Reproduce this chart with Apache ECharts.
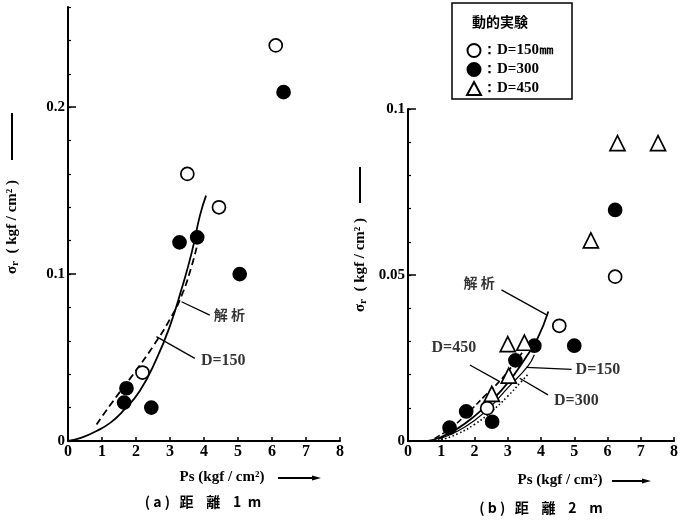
<!DOCTYPE html>
<html>
<head>
<meta charset="utf-8">
<script src="https://cdn.jsdelivr.net/npm/echarts@6/dist/echarts.min.js"></script>
<style>html,body{margin:0;padding:0;background:#fff}#c{width:681px;height:530px}</style>
</head>
<body>
<div id="c"></div>
<script>
// ---------- data (a) distance 1 m ----------
const a_open = [[6.11,0.237],[3.51,0.160],[4.44,0.140],[2.19,0.041]];
const a_fill = [[6.34,0.209],[3.28,0.119],[3.80,0.122],[5.05,0.100],[1.72,0.0316],[1.65,0.023],[2.45,0.020]];
const a_analysis = [[0,0],[0.4,0.002],[0.84,0.006],[1.25,0.011],[1.62,0.018],[2.11,0.030],[2.61,0.0495],[3.0,0.069],[3.34,0.091],[3.64,0.113],[3.88,0.135],[4.06,0.147]];
const a_d150 = [[0.84,0.0099],[1.33,0.024],[1.92,0.040],[2.51,0.057],[3.0,0.073],[3.34,0.087],[3.64,0.105],[3.83,0.120]];
// ---------- data (b) distance 2 m ----------
const b_open = [[6.23,0.0495],[4.55,0.0347],[2.38,0.0099]];
const b_fill = [[6.23,0.0696],[5.0,0.0287],[3.8,0.0287],[3.23,0.0243],[2.53,0.0058],[1.75,0.0089],[1.25,0.004]];
const b_tri = [[6.3,0.0897],[7.52,0.0897],[5.5,0.0604],[3.0,0.0292],[3.5,0.0296],[3.03,0.0197],[2.52,0.0142]];
const b_analysis = [[0.6,0],[1.0,0.0012],[1.5,0.0038],[2.0,0.0075],[2.5,0.012],[3.0,0.0175],[3.5,0.0245],[3.9,0.031],[4.22,0.039]];
const b_d450 = [[0.8,0.0008],[1.3,0.004],[1.8,0.0085],[2.3,0.0135],[2.8,0.0185],[3.2,0.0235],[3.5,0.0275]];
const b_d150 = [[0.9,0.0005],[1.5,0.003],[2.0,0.0062],[2.5,0.0105],[3.0,0.016],[3.6,0.0225],[3.8,0.026]];
const b_d300 = [[1.0,0.0003],[1.5,0.0022],[2.0,0.005],[2.5,0.0088],[3.0,0.0135],[3.4,0.0178],[3.6,0.020]];
// annotation leaders and labels (data coordinates)
const a_lead1 = [[3.34,0.0834],[4.17,0.0754]];
const a_lead2 = [[2.60,0.0625],[3.73,0.0495]];
const a_ann = [{name:'解析', value:[4.2,0.0754]},{name:'D=150', value:[3.82,0.048]}];
const b_lead1 = [[2.81,0.0455],[4.17,0.038]];
const b_lead450 = [[1.86,0.0229],[2.76,0.0179]];
const b_lead150 = [[3.56,0.0222],[4.92,0.0216]];
const b_lead300 = [[3.36,0.0189],[4.21,0.0139]];
const b_ann = [{name:'解析', value:[2.7,0.0476], pos:'left'},{name:'D=450', value:[1.38,0.028], pos:'inside'},{name:'D=150', value:[4.95,0.0215], pos:'right'},{name:'D=300', value:[4.3,0.0122], pos:'right'}];

const serif = '"Liberation Serif", "DejaVu Serif", serif';
const cjk = '"Noto Sans CJK JP", sans-serif';
const tickFont = {fontFamily: serif, fontWeight:'bold', fontSize:16, color:'#000'};

function xAx(gi){
  return {gridIndex:gi, type:'value', min:0, max:8, interval:1,
    axisLine:{show:true, onZero:false, lineStyle:{color:'#000', width:2}},
    axisTick:{show:true, inside:true, length:4, lineStyle:{color:'#000', width:1.5}},
    axisLabel:Object.assign({margin:3, formatter:v=>String(v)}, tickFont),
    splitLine:{show:false}};
}
function yMinor(gi,max,iv){
  return {gridIndex:gi, type:'value', position:'left', min:0, max:max, interval:iv,
    axisLine:{show:true, onZero:false, lineStyle:{color:'#000', width:2}},
    axisTick:{show:true, inside:true, length:3, lineStyle:{color:'#000', width:1.2}},
    axisLabel:{show:false}, splitLine:{show:false}};
}
function yMajor(gi,max,iv,fmt){
  return {gridIndex:gi, type:'value', position:'left', offset:0, min:0, max:max, interval:iv,
    axisLine:{show:false, onZero:false},
    axisTick:{show:true, inside:true, length:8, lineStyle:{color:'#000', width:1.5}},
    axisLabel:Object.assign({margin:3, showMaxLabel: max===0.1, formatter:fmt}, tickFont, {fontSize:15}),
    splitLine:{show:false}};
}
const blk = '#000';
function sc(name, data, xi, yi, sym, size, fill){
  return {type:'scatter', name:name, xAxisIndex:xi, yAxisIndex:yi, data:data, symbol:sym, symbolSize:size,
    itemStyle:{color: fill?blk:'#fff', borderColor:blk, borderWidth:1.7, opacity:1}, z:5, silent:true};
}
function ln(data, xi, yi, type, w){
  return {type:'line', data:data, xAxisIndex:xi, yAxisIndex:yi, smooth:true, symbol:'none',
    lineStyle:{color:blk, width:w||1.8, type:type||'solid'}, z:3, silent:true};
}
function lead(data, xi, yi){
  return {type:'line', data:data, xAxisIndex:xi, yAxisIndex:yi, symbol:'none',
    lineStyle:{color:blk, width:1.3}, z:4, silent:true};
}
function ann(data, xi, yi){
  return {type:'scatter', xAxisIndex:xi, yAxisIndex:yi, symbolSize:0, silent:true, z:6,
    data:data.map(d=>({name:d.name, value:d.value, label:{position:d.pos||'right'}})),
    label:{show:true, formatter:'{b}', position:'right', distance:3, color:'#000',
      fontFamily: serif, fontWeight:'bold', fontSize:16}};
}
function annFont(d){ return /[解析]/.test(d.name) ? cjk : serif; }

const chart = echarts.init(document.getElementById('c'), null, {renderer:'canvas'});
const annA = ann(a_ann,0,0); annA.data.forEach((d,i)=>{d.label.fontFamily=annFont(a_ann[i]); if(annFont(a_ann[i])===cjk){d.label.fontSize=14; d.label.formatter='解 析';}});
const annB = ann(b_ann,1,2); annB.data.forEach((d,i)=>{d.label.fontFamily=annFont(b_ann[i]); if(annFont(b_ann[i])===cjk){d.label.fontSize=14; d.label.formatter='解 析';}});

const yTitle = {text:'{s|σ}{r|r}  ( kgf / cm² )', textAlign:'center', textVerticalAlign:'middle', fill:'#000',
  rich:{s:{font:'bold 15px '+serif}, r:{font:'bold 11px '+serif, padding:[7,0,0,0]}}, font:'bold 15px '+serif};

const option = {
  backgroundColor:'#fff',
  animation:false,
  grid:[{left:68, top:7, width:272, height:434},{left:408, top:109, width:266, height:332}],
  xAxis:[xAx(0), xAx(1)],
  yAxis:[yMinor(0,0.26,0.02), yMajor(0,0.26,0.1,v=>v===0?'0':v.toFixed(1)),
         yMinor(1,0.1,0.01), yMajor(1,0.1,0.05,v=>v===0?'0':(v===0.1?'0.1':v.toFixed(2)))],
  legend:{left:466, top:43, orient:'vertical', itemGap:4, itemWidth:14, itemHeight:13, padding:0,
    data:['：D=150㎜','：D=300','：D=450'],
    textStyle:{fontFamily:serif, fontWeight:'bold', fontSize:15, lineHeight:14, color:'#000', padding:[0,0,0,-4]},
    selectedMode:false},
  series:[
    ln(a_analysis,0,0,'solid',1.8),
    ln(a_d150,0,0,[7,4],1.8),
    sc('a_open',a_open,0,0,'circle',13,false),
    sc('a_fill',a_fill,0,0,'circle',13,true),
    lead(a_lead1,0,0), lead(a_lead2,0,0), annA,
    ln(b_analysis,1,2,'solid',1.8),
    ln(b_d450,1,2,[6,3],1.6),
    ln(b_d150,1,2,'solid',1.2),
    ln(b_d300,1,2,[1.5,2.5],1.6),
    sc('：D=150㎜',b_open,1,2,'circle',13,false),
    sc('：D=300',b_fill,1,2,'circle',13,true),
    sc('：D=450',b_tri,1,2,'triangle',15,false),
    lead(b_lead1,1,2), lead(b_lead450,1,2), lead(b_lead150,1,2), lead(b_lead300,1,2), annB
  ],
  graphic:[
    {type:'rect', shape:{x:452, y:3, width:120, height:96}, style:{fill:'none', stroke:'#000', lineWidth:1.5}},
    {type:'text', x:500, y:22, style:{text:'動的実験', font:'bold 14px "Noto Sans CJK JP"', textAlign:'center', textVerticalAlign:'middle', fill:'#000'}},
    // left y title
    {type:'text', x:12, y:227, rotation:Math.PI/2, style:yTitle},
    {type:'line', shape:{x1:12, y1:113, x2:12, y2:160}, style:{stroke:'#000', lineWidth:2}},
    // right y title
    {type:'text', x:360, y:265, rotation:Math.PI/2, style:yTitle},
    {type:'line', shape:{x1:360, y1:167, x2:360, y2:203}, style:{stroke:'#000', lineWidth:2}},
    // x titles
    {type:'text', x:222, y:477, style:{text:'Ps (kgf / cm²)', font:'bold 15px '+serif, textAlign:'center', textVerticalAlign:'middle', fill:'#000'}},
    {type:'line', shape:{x1:278, y1:478, x2:316, y2:478}, style:{stroke:'#000', lineWidth:2}},
    {type:'polygon', shape:{points:[[312,475.5],[321,478],[312,480.5]]}, style:{fill:'#000'}},
    {type:'text', x:560, y:480, style:{text:'Ps (kgf / cm²)', font:'bold 15px '+serif, textAlign:'center', textVerticalAlign:'middle', fill:'#000'}},
    {type:'line', shape:{x1:612, y1:481, x2:646, y2:481}, style:{stroke:'#000', lineWidth:2}},
    {type:'polygon', shape:{points:[[642,478.5],[651,481],[642,483.5]]}, style:{fill:'#000'}},
    // subtitles
    {type:'text', x:203, y:502, style:{text:'( a )   距    離    1  m', font:'bold 14px "Noto Sans CJK JP"', textAlign:'center', textVerticalAlign:'middle', fill:'#000'}},
    {type:'text', x:541, y:508, style:{text:'( b )   距    離    2    m', font:'bold 14px "Noto Sans CJK JP"', textAlign:'center', textVerticalAlign:'middle', fill:'#000'}}
  ]
};
chart.setOption(option);
</script>
</body>
</html>
